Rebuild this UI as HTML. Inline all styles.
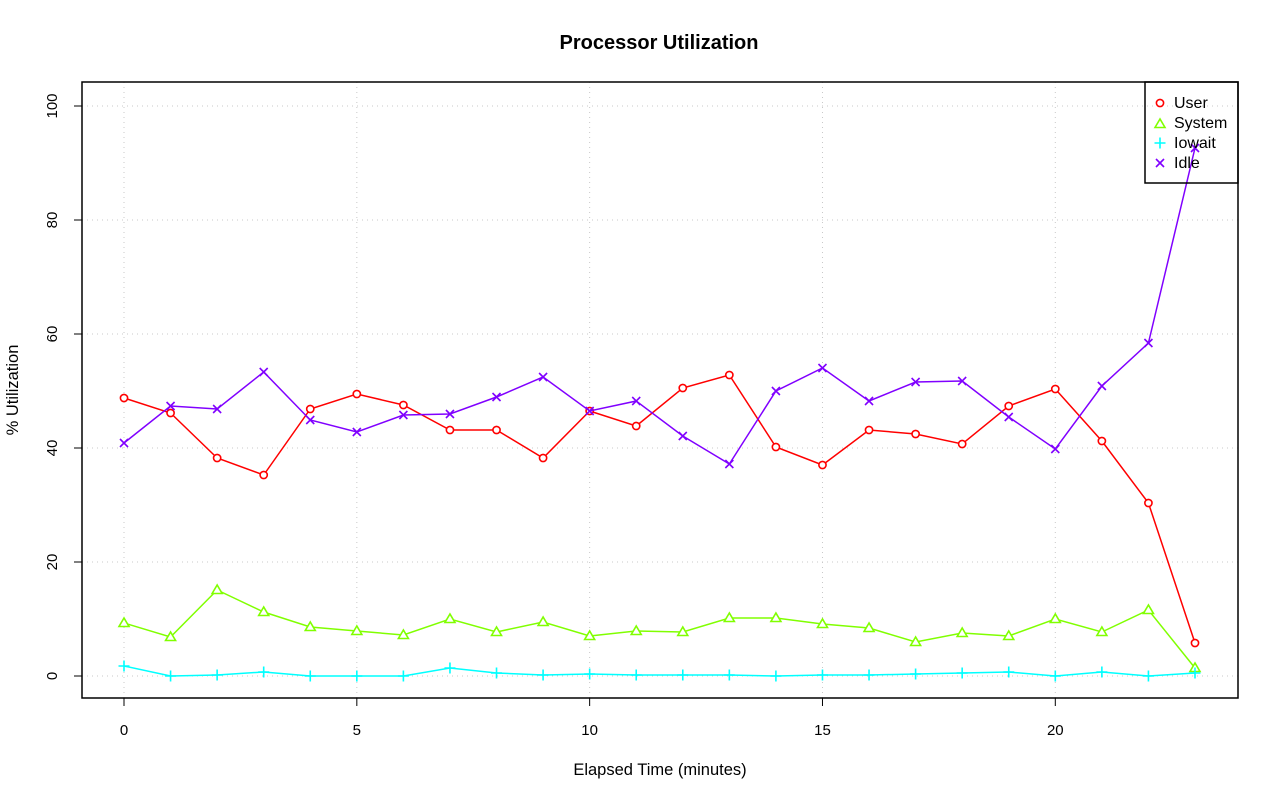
<!DOCTYPE html>
<html><head><meta charset="utf-8"><style>
html,body{margin:0;padding:0;background:#fff;width:1280px;height:801px;overflow:hidden}
text{font-family:"Liberation Sans",sans-serif;}
</style></head><body>
<svg id="s" width="1280" height="801" xmlns="http://www.w3.org/2000/svg">
<rect width="1280" height="801" fill="#fff"/>
<text x="659" y="49" font-size="20" font-weight="bold" text-anchor="middle">Processor Utilization</text>
<text x="660" y="775" font-size="16.5" text-anchor="middle">Elapsed Time (minutes)</text>
<text transform="translate(18,390) rotate(-90)" font-size="16.5" text-anchor="middle">% Utilization</text>
<g id="g"></g>
<rect x="82" y="82" width="1156" height="616" fill="none" stroke="#000" stroke-width="1.5"/>
<rect x="1145" y="82" width="93" height="101" fill="none" stroke="#000" stroke-width="1.5"/>
<text x="1174" y="108" font-size="16">User</text>
<text x="1174" y="128" font-size="16">System</text>
<text x="1174" y="148" font-size="16">Iowait</text>
<text x="1174" y="168" font-size="16">Idle</text>
</svg>
<script>
const g=document.getElementById('g');let h='';
const X=i=>124+i*46.565;
for(let i=0;i<=20;i+=5){h+=`<line x1="${X(i)}" y1="82" x2="${X(i)}" y2="698" stroke="#c8c8c8" stroke-dasharray="1,4"/>`;
h+=`<line x1="${X(i)}" y1="698" x2="${X(i)}" y2="706" stroke="#000"/><text x="${X(i)}" y="735" font-size="15" text-anchor="middle">${i}</text>`;}
h+=`<line x1="124" y1="698" x2="${X(20)}" y2="698" stroke="#000"/>`;
for(let v=0;v<=100;v+=20){const y=676-v*5.7;h+=`<line x1="82" y1="${y}" x2="1238" y2="${y}" stroke="#c8c8c8" stroke-dasharray="1,4"/>`;
h+=`<line x1="74" y1="${y}" x2="82" y2="${y}" stroke="#000"/><text transform="translate(57,${y}) rotate(-90)" font-size="15" text-anchor="middle">${v}</text>`;}
h+=`<line x1="82" y1="106" x2="82" y2="676" stroke="#000"/>`;
const D={
u:[398,413,458,475,409,394,405,430,430,458,411,426,388,375,447,465,430,434,444,406,389,441,503,643],
s:[623,637,590,612,627,631,635,619,632,622,636,631,632,618,618,624,628,642,633,636,619,632,610,668],
w:[666,676,675,672,676,676,676,668,673,675,674,675,675,675,676,675,675,674,673,672,676,672,676,673],
i:[443,406,409,372,420,432,415,414,397,377,411,401,436,464,391,368,401,382,381,417,449,386,343,148]};
const C={u:'#ff0000',s:'#80ff00',w:'#00ffff',i:'#8000ff'};
function mk(k,x,y){const c=C[k];
if(k=='u')return `<circle cx="${x}" cy="${y}" r="3.6" fill="#fff" stroke="${c}" stroke-width="1.6"/>`;
if(k=='s')return `<polygon points="${x},${y-5} ${x-5},${y+3.5} ${x+5},${y+3.5}" fill="#fff" stroke="${c}" stroke-width="1.6"/>`;
if(k=='w')return `<path d="M${x-5.5} ${y}H${x+5.5}M${x} ${y-5.5}V${y+5.5}" stroke="${c}" stroke-width="1.6"/>`;
return `<path d="M${x-4} ${y-4}L${x+4} ${y+4}M${x-4} ${y+4}L${x+4} ${y-4}" stroke="${c}" stroke-width="1.6"/>`;}
for(const k of ['u','s','w','i']){h+=`<polyline fill="none" stroke="${C[k]}" stroke-width="1.5" points="${D[k].map((y,i)=>X(i)+','+y).join(' ')}"/>`;
D[k].forEach((y,i)=>h+=mk(k,X(i),y));}
h+=mk('u',1160,103)+mk('s',1160,124)+mk('w',1160,143)+mk('i',1160,163);
g.innerHTML=h;
</script>
</body></html>
